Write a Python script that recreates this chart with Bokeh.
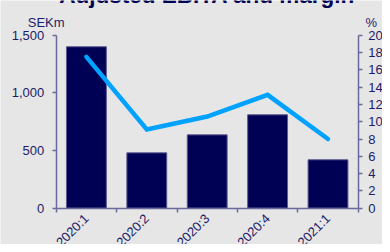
import math
from bokeh.plotting import figure
from bokeh.models import (Range1d, LinearAxis, FixedTicker, Label, ColumnDataSource)
from bokeh.embed import file_html
from bokeh.resources import INLINE

# ---- data ----
categories = ["2020:1", "2020:2", "2020:3", "2020:4", "2021:1"]
ebita_sekm = [1400, 480, 636, 810, 420]
margin_pct = [17.5, 9.1, 10.6, 13.1, 8.0]
left_ticks = [0, 500, 1000, 1500]
right_ticks = [0, 2, 4, 6, 8, 10, 12, 14, 16, 18, 20]
title_text = "Adjusted EBITA and margin"

# ---- styles / layout ----
BG = "#e6e6e6"
NAVY = "#000055"
TEXT = "#1c1c68"
AXIS = "#6a6a9c"
LINE = "#00a2ff"
FONT = "Liberation Sans"

W, H = 382, 244
X0_PX, X1_PX = 55.7, 357.7      # where category axis starts / ends
Y0_PX, Y1_PX = 207.7, 34.7      # where value 0 / max sit (from top)
N = len(categories)
YMAX, PMAX = left_ticks[-1], right_ticks[-1]

ux = (X1_PX - X0_PX) / N
uy = (Y0_PX - Y1_PX) / YMAX
up = (Y0_PX - Y1_PX) / PMAX
x_range = Range1d(-X0_PX / ux, N + (W - X1_PX) / ux)
y_range = Range1d(-(H - Y0_PX) / uy, YMAX + Y1_PX / uy)
p_range = Range1d(-(H - Y0_PX) / up, PMAX + Y1_PX / up)

xpos = [i + 0.5 for i in range(N)]
src = ColumnDataSource(dict(x=xpos, ebita=ebita_sekm, margin=margin_pct))

p = figure(width=W, height=H, output_backend="svg", toolbar_location=None,
           x_range=x_range, y_range=y_range,
           x_axis_type=None, y_axis_type=None,
           min_border=0)
p.title.visible = False
p.background_fill_color = BG
p.border_fill_color = BG
p.outline_line_color = None
p.xgrid.grid_line_color = None
p.ygrid.grid_line_color = None
p.extra_y_ranges = {"pct": p_range}

def style_axis(ax):
    ax.axis_line_color = AXIS
    ax.axis_line_width = 1.5
    ax.major_tick_line_color = AXIS
    ax.major_tick_line_width = 1.5
    ax.minor_tick_line_color = None
    ax.major_tick_in = 0
    ax.major_tick_out = 4
    ax.major_label_text_color = TEXT
    ax.major_label_text_font = FONT
    ax.major_label_text_font_size = "13px"

ly = LinearAxis(ticker=FixedTicker(ticks=left_ticks), fixed_location=0, bounds=(0, YMAX))
style_axis(ly)
ly.major_label_standoff = 8
ly.major_label_overrides = {t: f"{t:,}" for t in left_ticks}
p.add_layout(ly, "left")

ry = LinearAxis(y_range_name="pct", ticker=FixedTicker(ticks=right_ticks),
                fixed_location=N, bounds=(0, PMAX))
style_axis(ry)
ry.major_label_standoff = 6
p.add_layout(ry, "right")

bx = LinearAxis(ticker=FixedTicker(ticks=xpos, minor_ticks=list(range(N + 1))),
                fixed_location=0, bounds=(0, N))
style_axis(bx)
bx.major_tick_out = 0
bx.major_tick_line_color = None
bx.minor_tick_line_color = AXIS
bx.minor_tick_line_width = 1.5
bx.minor_tick_in = 0
bx.minor_tick_out = 4
bx.major_label_standoff = 4
bx.major_label_orientation = math.pi / 4
bx.major_label_overrides = {x: c for x, c in zip(xpos, categories)}
p.add_layout(bx, "below")

p.vbar(x="x", top="ebita", width=0.66, source=src, fill_color=NAVY,
       line_color="#5c5c90", line_width=1)
p.line(x="x", y="margin", source=src, y_range_name="pct", line_color=LINE,
       line_width=4.5, line_cap="round", line_join="miter")

p.add_layout(Label(x=0, y=YMAX, x_offset=-10, y_offset=13, text="SEKm",
                   text_align="center", text_baseline="alphabetic",
                   text_font=FONT, text_font_size="13px", text_color=TEXT))
p.add_layout(Label(x=N, y=PMAX, y_range_name="pct", x_offset=13, y_offset=13,
                   text="%", text_align="center", text_baseline="alphabetic",
                   text_font=FONT, text_font_size="13px", text_color=TEXT))
p.add_layout(Label(x=N / 2, y=YMAX, y_offset=40, text=title_text,
                   text_align="center", text_baseline="alphabetic",
                   text_font=FONT, text_font_style="bold", text_font_size="22.5px",
                   text_color=NAVY))

open("out.html", "w").write(file_html(p, INLINE))
